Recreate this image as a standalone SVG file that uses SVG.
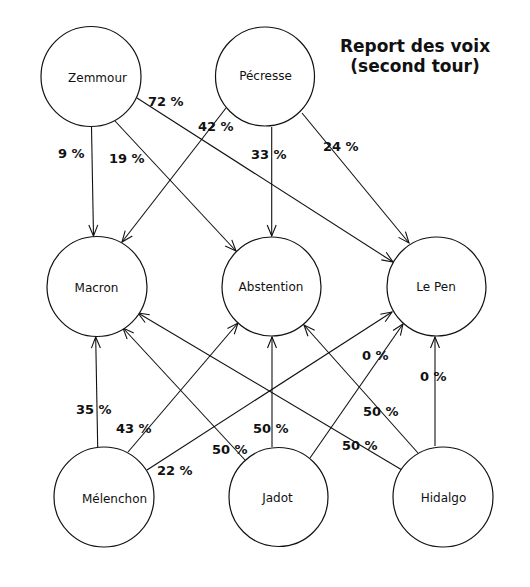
<svg xmlns="http://www.w3.org/2000/svg" width="530" height="587" viewBox="0 0 530 587">
<style>
.node circle{fill:#fff;stroke:#111;stroke-width:1.2}
.node text{font-family:"DejaVu Sans",Verdana,sans-serif;font-size:12px;fill:#111;text-anchor:middle}
.edges line{stroke:#111;stroke-width:1.1;marker-end:url(#arr)}
.lbl{font-family:"DejaVu Sans",Verdana,sans-serif;font-size:13px;font-weight:bold;fill:#111}
.title{font-family:"DejaVu Sans",Verdana,sans-serif;font-size:17px;font-weight:bold;fill:#111;text-anchor:middle}
</style>
<defs>
<marker id="arr" markerUnits="userSpaceOnUse" markerWidth="14" markerHeight="12" viewBox="0 0 14 12" refX="12" refY="6" orient="auto">
<path d="M1,1.5 L12,6 L1,10.5" fill="none" stroke="#111" stroke-width="1.1"/>
</marker>
</defs>
<rect width="530" height="587" fill="#fff"/>
<g id="title">
<text class="title" x="415" y="52">Report des voix</text>
<text class="title" x="415" y="72">(second tour)</text>
</g>
<g class="edges" id="connectors">
<line x1="91.5" y1="127" x2="93.5" y2="236"/>
<line x1="115" y1="121" x2="236" y2="251"/>
<line x1="137" y1="98" x2="393" y2="262"/>
<line x1="226" y1="108" x2="122" y2="242"/>
<line x1="271.7" y1="127" x2="271.7" y2="236"/>
<line x1="302" y1="113" x2="409" y2="243"/>
<line x1="97.7" y1="447" x2="95.7" y2="337"/>
<line x1="128" y1="452" x2="238" y2="323"/>
<line x1="147" y1="470" x2="392" y2="312"/>
<line x1="245" y1="460" x2="123" y2="328"/>
<line x1="272" y1="447" x2="272" y2="337"/>
<line x1="310" y1="458" x2="403" y2="324"/>
<line x1="402" y1="470" x2="138" y2="313"/>
<line x1="418" y1="453" x2="304" y2="325"/>
<line x1="435" y1="446" x2="435" y2="337"/>
</g>
<g id="edge-labels">
<text class="lbl" x="58" y="158">9 %</text>
<text class="lbl" x="109" y="163">19 %</text>
<text class="lbl" x="148" y="106">72 %</text>
<text class="lbl" x="198" y="131">42 %</text>
<text class="lbl" x="251" y="159">33 %</text>
<text class="lbl" x="323" y="151">24 %</text>
<text class="lbl" x="76" y="414">35 %</text>
<text class="lbl" x="116" y="433">43 %</text>
<text class="lbl" x="157" y="475">22 %</text>
<text class="lbl" x="212" y="454">50 %</text>
<text class="lbl" x="253" y="433">50 %</text>
<text class="lbl" x="362" y="360">0 %</text>
<text class="lbl" x="342" y="450">50 %</text>
<text class="lbl" x="363" y="416">50 %</text>
<text class="lbl" x="420" y="381">0 %</text>
</g>
<g class="node" id="zemmour"><circle cx="91" cy="76.5" r="50"/><text x="97.5" y="82">Zemmour</text></g>
<g class="node" id="pecresse"><circle cx="265" cy="76.5" r="49.5"/><text x="265.5" y="80">Pécresse</text></g>
<g class="node" id="macron"><circle cx="97" cy="286.5" r="50"/><text x="96.5" y="291.5">Macron</text></g>
<g class="node" id="abstention"><circle cx="271.5" cy="286.5" r="49.5"/><text x="271" y="291">Abstention</text></g>
<g class="node" id="lepen"><circle cx="436.5" cy="286.5" r="49.5"/><text x="436" y="291">Le Pen</text></g>
<g class="node" id="melenchon"><circle cx="104" cy="497" r="50"/><text x="114.5" y="502.5">Mélenchon</text></g>
<g class="node" id="jadot"><circle cx="278.5" cy="497" r="49.5"/><text x="277.5" y="502">Jadot</text></g>
<g class="node" id="hidalgo"><circle cx="443" cy="497" r="50"/><text x="443.5" y="502">Hidalgo</text></g>
</svg>
